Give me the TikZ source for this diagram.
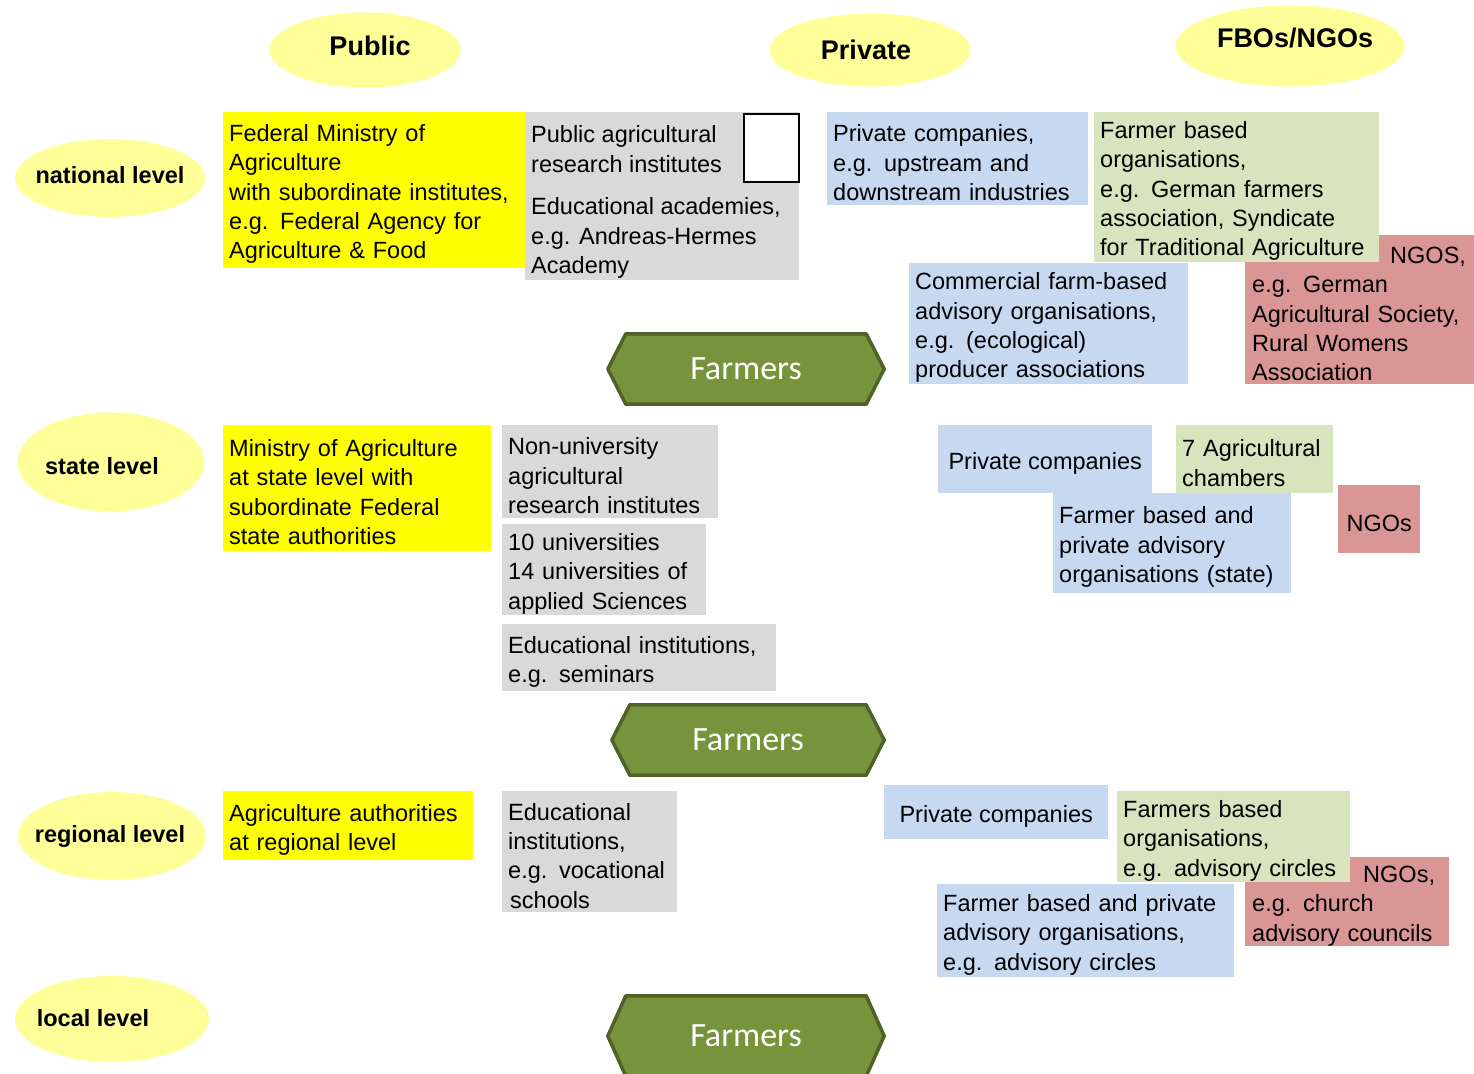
\documentclass[tikz,border=0pt]{standalone}
\usepackage{fontspec}
\setmainfont{Liberation Sans}
\newfontfamily\farmfont{Carlito}
\usetikzlibrary{backgrounds,shapes.geometric}
\definecolor{ellfill}{HTML}{FFFF99}
\definecolor{yelbox}{HTML}{FFFF00}
\definecolor{graybox}{HTML}{D9D9D9}
\definecolor{bluebox}{HTML}{C6D9F1}
\definecolor{greenbox}{HTML}{D7E4BD}
\definecolor{redbox}{HTML}{D99694}
\definecolor{hexfill}{HTML}{77933C}
\definecolor{hexline}{HTML}{4F6228}
\newcommand\bodyf{\fontsize{23.5}{29.3}\selectfont}
\newcommand\levelf{\fontsize{23.5}{28}\selectfont\bfseries}
\newcommand\headf{\fontsize{27}{32}\selectfont\bfseries}
\newcommand\farmf{\farmfont\fontsize{34}{40}\selectfont}
\tikzset{
  ellnode/.style={ellipse, fill=ellfill, draw=none, inner sep=0},
  levlab/.style={font=\levelf, inner sep=0},
  headlab/.style={font=\headf, inner sep=0},
  box/.style={anchor=north west, inner xsep=6, inner ysep=0, align=left, font=\bodyf, text=black, draw=none,
              execute at begin node={\rule{0pt}{25pt}}},
  plaintext/.style={anchor=west, inner sep=0, align=left, font=\bodyf, text=black},
  farmbase/.style={inner sep=0, text=white, font=\farmf},
  hexborder/.style={fill=hexfill, draw=hexline, line width=3.5, line join=round},
}
\begin{document}
\begin{tikzpicture}[x=1pt,y=-1pt]
\useasboundingbox (0,0) rectangle (1474,1073);
\clip (0,0) rectangle (1474,1073);

% column headers
\node[ellnode, minimum width=191, minimum height=75, label={[headlab, xshift=5, yshift=4]center:Public}] (public) at (365,50) {};
\node[ellnode, minimum width=201, minimum height=73, label={[headlab, xshift=-4]center:Private}] (private) at (870,50) {};
\node[ellnode, minimum width=229, minimum height=81, label={[headlab, xshift=5, yshift=8]center:FBOs/NGOs}] (fbongo) at (1290,46) {};

% level labels
\node[ellnode, minimum width=190, minimum height=78, label={[levlab, yshift=3]center:national level}] (national) at (110,178) {};
\node[ellnode, minimum width=187, minimum height=99, label={[levlab, xshift=-9, yshift=-4]center:state level}] (state) at (111,462) {};
\node[ellnode, minimum width=188, minimum height=88, label={[levlab, xshift=-2]center:regional level}] (regional) at (112,836) {};
\node[ellnode, minimum width=194, minimum height=86, label={[levlab, xshift=-19, yshift=1]center:local level}] (local) at (112,1019) {};

% ---------- national level ----------
\node[box, fill=yelbox, minimum width=302, minimum height=156, text width=290] (fedmin) at (223,112)
  {Federal Ministry of\\Agriculture\\with subordinate institutes,\\e.g. Federal Agency for\\Agriculture \& Food};
\node[box, fill=graybox, minimum width=274, minimum height=168, execute at begin node={}] (pubres) at (525,112) {};
\node[plaintext] (pubrestext) at (531,149) {Public agricultural\\research institutes};
\node[plaintext] (eduacad) at (531,238) {Educational academies,\\e.g. Andreas-Hermes\\Academy};
\node[anchor=north west, fill=white, draw=black, line width=2, minimum width=55, minimum height=68, inner sep=0] (emptybox) at (743,113) {};
\node[box, fill=bluebox, minimum width=261, minimum height=93, text width=249] (pcnat) at (827,112)
  {Private companies,\\e.g. upstream and\\downstream industries};
\node[box, fill=redbox, minimum width=229, minimum height=149, text width=215, inner xsep=7] (ngonat) at (1245,235)
  {\hspace*{138pt}NGOS,\\e.g. German\\Agricultural Society,\\Rural Womens\\Association};
\node[box, fill=greenbox, minimum width=285, minimum height=150, text width=273] (fbonat) at (1094,112)
  {Farmer based\\organisations,\\e.g. German farmers\\association, Syndicate\\for Traditional Agriculture};
\node[box, fill=bluebox, minimum width=279, minimum height=121, text width=267] (comnat) at (909,263)
  {Commercial farm-based\\advisory organisations,\\e.g. (ecological)\\producer associations};

% ---------- state level ----------
\node[box, fill=yelbox, minimum width=268, minimum height=126, text width=256] (minstate) at (223,425)
  {Ministry of Agriculture\\at state level with\\subordinate Federal\\state authorities};
\node[box, fill=graybox, minimum width=216, minimum height=93, text width=204] (nonuni) at (502,425)
  {Non-university\\agricultural\\research institutes};
\node[box, fill=graybox, minimum width=204, minimum height=91, text width=192] (unis) at (502,524)
  {10 universities\\14 universities of\\applied Sciences};
\node[box, fill=graybox, minimum width=274, minimum height=67, text width=262] (edustate) at (502,624)
  {Educational institutions,\\e.g. seminars};
\node[box, fill=bluebox, minimum width=214, minimum height=68] (pcstate) at (938,425) {Private companies};
\node[box, fill=greenbox, minimum width=157, minimum height=68, text width=145] (chambers) at (1176,425)
  {7 Agricultural\\chambers};
\node[box, fill=bluebox, minimum width=238, minimum height=100, text width=226] (fbstate) at (1053,493)
  {Farmer based and\\private advisory\\organisations (state)};
\node[box, fill=redbox, minimum width=82, minimum height=68] (ngostate) at (1338,485) {NGOs};

% ---------- regional level ----------
\node[box, fill=yelbox, minimum width=250, minimum height=69, text width=238] (agrauth) at (223,791)
  {Agriculture authorities\\at regional level};
\node[box, fill=graybox, minimum width=175, minimum height=121, text width=163] (voc) at (502,791)
  {Educational\\institutions,\\e.g. vocational\\\hspace*{2pt}schools};
\node[box, fill=bluebox, minimum width=224, minimum height=54] (pcreg) at (884,785) {Private companies};
\node[box, fill=redbox, minimum width=204, minimum height=89, text width=190, inner xsep=7] (ngoreg) at (1245,857)
  {\hspace*{111pt}NGOs,\\e.g. church\\advisory councils};
\node[box, fill=greenbox, minimum width=233, minimum height=91, text width=221] (fboreg) at (1117,791)
  {Farmers based\\organisations,\\e.g. advisory circles};
\node[box, fill=bluebox, minimum width=297, minimum height=93, text width=285] (fbreg) at (937,884)
  {Farmer based and private\\advisory organisations,\\e.g. advisory circles};

% ---------- Farmers hexagons ----------
\node[farmbase, minimum width=276, minimum height=70] (farmers1) at (746,369) {Farmers};
\node[farmbase, minimum width=272, minimum height=70] (farmers2) at (748,740) {Farmers};
\node[farmbase, minimum width=276, minimum height=80] (farmers3) at (746,1036) {Farmers};
\begin{scope}[on background layer]
\foreach \f in {farmers1,farmers2,farmers3}{
  \draw[hexborder] (\f.west) -- ([xshift=18]\f.north west) -- ([xshift=-18]\f.north east)
     -- (\f.east) -- ([xshift=-18]\f.south east) -- ([xshift=18]\f.south west) -- cycle;
}
\end{scope}
\end{tikzpicture}
\end{document}
